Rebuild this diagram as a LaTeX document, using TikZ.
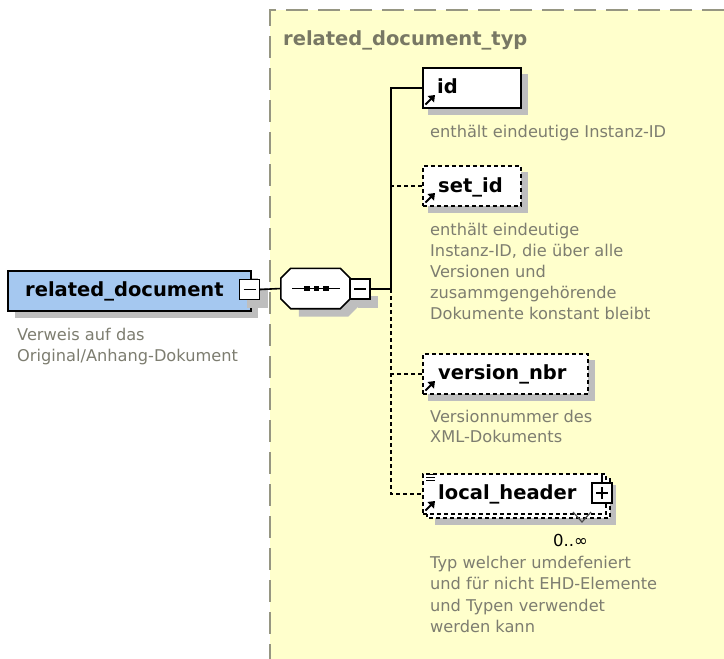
\documentclass[tikz,border=0pt]{standalone}
\usepackage{fontspec}
\setmainfont{DejaVu Sans}
\definecolor{yellowbg}{RGB}{255,255,204}
\definecolor{bordergray}{RGB}{150,150,130}
\definecolor{descgray}{RGB}{125,125,112}
\definecolor{titlegray}{RGB}{120,120,100}
\definecolor{shadowgray}{RGB}{190,190,190}
\definecolor{elemblue}{RGB}{165,200,240}
\begin{document}
\begin{tikzpicture}[x=1pt,y=-1pt,
  lbl/.style={font=\fontsize{19.5}{22}\selectfont\bfseries, text=black, anchor=base west, inner sep=0pt},
  desc/.style={font=\fontsize{16.2}{21}\selectfont, text=descgray, align=left, anchor=north west, inner sep=0pt},
  box/.style={draw=black, line width=1.7pt, fill=white, anchor=north west, inner sep=0pt, minimum height=40pt},
  optbox/.style={box, dash pattern=on 4pt off 3pt},
  shadow/.style={fill=shadowgray, draw=none},
  conn/.style={line width=1.6pt},
  optconn/.style={line width=1.6pt, dash pattern=on 4pt off 3pt},
  pmbox/.style={draw=black, line width=1.4pt, fill=white, minimum width=20pt, minimum height=20pt, inner sep=0pt},
  refline/.style={line width=2pt},
  refhead/.style={fill=black}]
\newcommand{\refIcon}[2]{%
  \draw[refline] (#1+3.5,#2-2.5) -- (#1+9,#2-8);
  \fill[refhead] (#1+13,#2-12) -- (#1+5.5,#2-11) -- (#1+12,#2-4.5) -- cycle;}
\useasboundingbox (0,0) rectangle (724,659);
\fill[white] (0,0) rectangle (724,659);
% complex type region
\fill[yellowbg] (270,10) rectangle (724,659);
\draw[bordergray, line width=1.6pt, dash pattern=on 22pt off 10pt] (724,10) -- (270,10) -- (270,659);
\node[font=\fontsize{19.5}{22}\selectfont\bfseries, text=titlegray, anchor=base west, inner sep=0pt] (title) at (283,45) {related\_document\_typ};

% related_document element
\fill[shadow] (15,278) rectangle (258,318);
\node[box, fill=elemblue, minimum width=243pt] (rd) at (7,270) {};
\node[lbl] (rdlbl) at (25,296) {related\_document};
\fill[shadow] (247,288) rectangle (268,308);
\node[pmbox] (rdm) at (249.5,289.5) {};
\draw[line width=1.4pt] ([xshift=-6pt]rdm.center) -- ([xshift=6pt]rdm.center);
\node[desc] (rddesc) at (17,327.7) {Verweis auf das\\Original/Anhang-Dokument};

% sequence compositor
\node[minimum width=69pt, minimum height=40pt, inner sep=0pt] (seq) at (315.5,288.5) {};
\fill[shadow] ([shift={(18,8)}]seq.north west) -- ([shift={(-2,8)}]seq.north east) -- ([shift={(8,18)}]seq.north east) -- ([shift={(8,-2)}]seq.south east) -- ([shift={(-2,8)}]seq.south east) -- ([shift={(18,8)}]seq.south west) -- cycle;
\draw[line width=1.6pt, fill=white] ([shift={(10,0)}]seq.north west) -- ([shift={(-10,0)}]seq.north east) -- ([shift={(0,10)}]seq.north east) -- ([shift={(0,-10)}]seq.south east) -- ([shift={(-10,0)}]seq.south east) -- ([shift={(10,0)}]seq.south west) -- ([shift={(0,-10)}]seq.south west) -- ([shift={(0,10)}]seq.north west) -- cycle;
\draw[line width=1.4pt] (292,288.5) -- (340,288.5);
\foreach \dx in {307,316.5,326} \fill (\dx-2.8,285.7) rectangle (\dx+2.8,291.3);
\fill[shadow] (358,296) rectangle (378,308);
\node[pmbox] (seqm) at (360,289) {};
\draw[line width=1.4pt] ([xshift=-6pt]seqm.center) -- ([xshift=6pt]seqm.center);
\draw[conn] (rdm.east) -- (seq.west);
\coordinate (vx) at (391,289);
\draw[conn] (seqm.east) -- (vx);

% id
\fill[shadow] (428,74) rectangle (528,115);
\node[box, minimum width=98pt] (id) at (422,67) {};
\node[lbl] (idlbl) at (437,93.5) {id};
\refIcon{422}{107}
\node[desc] (iddesc) at (430,124.7) {enthält eindeutige Instanz-ID};

% set_id
\fill[shadow] (428,172) rectangle (528,213);
\node[optbox, minimum width=98pt] (setid) at (422,165) {};
\node[lbl] (setidlbl) at (438,192) {set\_id};
\refIcon{422}{205}
\node[desc] (setiddesc) at (430,222.7) {enthält eindeutige\\Instanz-ID, die über alle\\Versionen und\\zusammgengehörende\\Dokumente konstant bleibt};

% version_nbr
\fill[shadow] (428,360) rectangle (595,401);
\node[optbox, minimum width=165pt] (version) at (422,353) {};
\node[lbl] (versionlbl) at (438,379) {version\_nbr};
\refIcon{422}{393}
\node[desc, font=\fontsize{16.2}{20}\selectfont] (versiondesc) at (430,409.7) {Versionnummer des\\XML-Dokuments};

% local_header
\fill[shadow] (435,485) rectangle (616,525);
\draw[line width=1.7pt, dash pattern=on 4pt off 3pt, fill=white] (427,478) rectangle (610,518);
\node[optbox, minimum width=183pt] (local) at (422,473) {};
\node[lbl] (locallbl) at (438,499.5) {local\_header};
\refIcon{422}{513}
\draw[line width=1pt] (426,474.5) -- (435,474.5) (426,477.5) -- (435,477.5) (426,480.5) -- (435,480.5);
\node[pmbox] (localp) at (602,493) {};
\draw[line width=1.4pt] ([xshift=-6pt]localp.center) -- ([xshift=6pt]localp.center) ([yshift=-6pt]localp.center) -- ([yshift=6pt]localp.center);
\draw[line width=1.4pt] (localp.north) -- ++(0,-7);
\draw[line width=1.2pt, black!70] (573,512) -- (582,522) -- (591,512);
\node[font=\fontsize{16.5}{20}\selectfont, text=black, anchor=base west, inner sep=0pt] (occ) at (553,546) {0..∞};
\node[desc, font=\fontsize{16.2}{21.5}\selectfont] (localdesc) at (430,555.7) {Typ welcher umdefeniert\\und für nicht EHD-Elemente\\und Typen verwendet\\werden kann};

% connectors
\draw[conn] (id.west) -| (vx);
\draw[optconn] (setid.west) -- (setid.west -| vx);
\draw[optconn] (version.west) -- (version.west -| vx);
\draw[optconn] (vx) |- (local.west);
\end{tikzpicture}
\end{document}
